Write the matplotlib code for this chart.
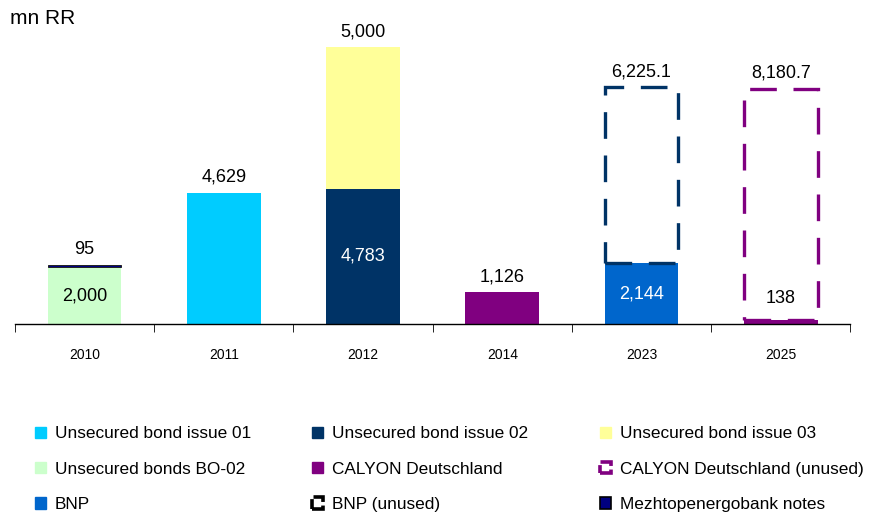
import numpy as np
import matplotlib
matplotlib.use('Agg')
import matplotlib.pyplot as plt
from matplotlib.patches import Patch

plt.rcParams['font.family'] = ['Liberation Sans', 'DejaVu Sans']

# data
years = ['2010', '2011', '2012', '2014', '2023', '2025']
bond_01 = [0, 4629, 0, 0, 0, 0]
bond_02 = [0, 0, 4783, 0, 0, 0]
bond_03 = [0, 0, 5000, 0, 0, 0]
bonds_bo02 = [2000, 0, 0, 0, 0, 0]
calyon = [0, 0, 0, 1126, 0, 138]
calyon_unused = [0, 0, 0, 0, 0, 8180.7]
bnp = [0, 0, 0, 0, 2144, 0]
bnp_unused = [0, 0, 0, 0, 6225.1, 0]
mezhtop = [95, 0, 0, 0, 0, 0]

c_b01 = '#00CCFF'
c_b02 = '#003366'
c_b03 = '#FFFF99'
c_bo02 = '#CCFFCC'
c_cal = '#800080'
c_bnp = '#0066CC'
c_mez = '#000080'

fig = plt.figure(figsize=(8.74, 5.15), dpi=100)
ax = fig.add_axes([0.017, 0.371, 0.956, 0.629])

x = np.arange(len(years))
w = 0.53
bottom = np.zeros(len(years))

def stack(vals, **kw):
    # only draw non-zero segments, keep running bottom
    global bottom
    vals = np.array(vals, dtype=float)
    m = vals > 0
    ax.bar(x[m], vals[m], w, bottom=bottom[m], **kw)
    bottom = bottom + vals

stack(bonds_bo02, color=c_bo02)
stack(bond_01, color=c_b01)
stack(bond_02, color=c_b02)
stack(bond_03, color=c_b03)
stack(calyon, color=c_cal)
stack(bnp, color=c_bnp)
stack(mezhtop, facecolor=c_mez, edgecolor='#222222', linewidth=0.7)
stack(bnp_unused, facecolor='none', edgecolor=c_b02, linewidth=2.4,
      linestyle=(0, (8, 5)))
stack(calyon_unused, facecolor='none', edgecolor=c_cal, linewidth=2.4,
      linestyle=(0, (8, 5)))

fs = 13
# labels above stacks / inside segments
ax.text(0, bonds_bo02[0] / 2, '2,000', ha='center', va='center', fontsize=fs)
ax.text(0, bonds_bo02[0] + mezhtop[0] + 250, '95', ha='center', va='bottom', fontsize=fs)
ax.text(1, bond_01[1] + 250, '4,629', ha='center', va='bottom', fontsize=fs)
ax.text(2, bond_02[2] / 2, '4,783', ha='center', va='center', fontsize=fs, color='white')
ax.text(2, bond_02[2] + bond_03[2] + 250, '5,000', ha='center', va='bottom', fontsize=fs)
ax.text(3, calyon[3] + 250, '1,126', ha='center', va='bottom', fontsize=fs)
ax.text(4, bnp[4] / 2, '2,144', ha='center', va='center', fontsize=fs, color='white')
ax.text(4, bnp[4] + bnp_unused[4] + 250, '6,225.1', ha='center', va='bottom', fontsize=fs)
ax.text(5, calyon[5] + 450, '138', ha='center', va='bottom', fontsize=fs)
ax.text(5, calyon[5] + calyon_unused[5] + 250, '8,180.7', ha='center', va='bottom', fontsize=fs)

ax.set_xlim(-0.5, 5.5)
ax.set_ylim(0, 11450)
for s in ['left', 'right', 'top']:
    ax.spines[s].set_visible(False)
ax.spines['bottom'].set_linewidth(1.0)
ax.set_yticks([])
ax.set_xticks(x)
ax.set_xticklabels(years, fontsize=10)
ax.tick_params(axis='x', which='major', length=0, pad=17)
ax.set_xticks(np.arange(-0.5, 6, 1), minor=True)
ax.tick_params(axis='x', which='minor', length=6, direction='out')

fig.text(0.011, 0.965, 'mn RR', fontsize=15, va='center', ha='left')

# legend: three columns placed separately
lfs = 12.4
unused_ls = (0, (4, 1))
columns = [
    ([Patch(color=c_b01), Patch(color=c_bo02), Patch(color=c_bnp)],
     ['Unsecured bond issue 01', 'Unsecured bonds BO-02', 'BNP'], 35),
    ([Patch(color=c_b02), Patch(color=c_cal),
      Patch(facecolor='none', edgecolor='black', linewidth=2.6, linestyle=unused_ls)],
     ['Unsecured bond issue 02', 'CALYON Deutschland', 'BNP (unused)'], 312),
    ([Patch(color=c_b03),
      Patch(facecolor='none', edgecolor=c_cal, linewidth=2.6, linestyle=unused_ls),
      Patch(facecolor=c_mez, edgecolor='black', linewidth=1.2)],
     ['Unsecured bond issue 03', 'CALYON Deutschland (unused)', 'Mezhtopenergobank notes'], 600),
]
for hs, ls, px in columns:
    fig.legend(hs, ls, loc='upper left', bbox_to_anchor=(px / 874, 0.172),
               frameon=False, fontsize=lfs, handlelength=0.65, handleheight=0.65,
               handletextpad=0.5, labelspacing=1.18,
               borderaxespad=0, borderpad=0)

fig.savefig('out.png', dpi=100)
